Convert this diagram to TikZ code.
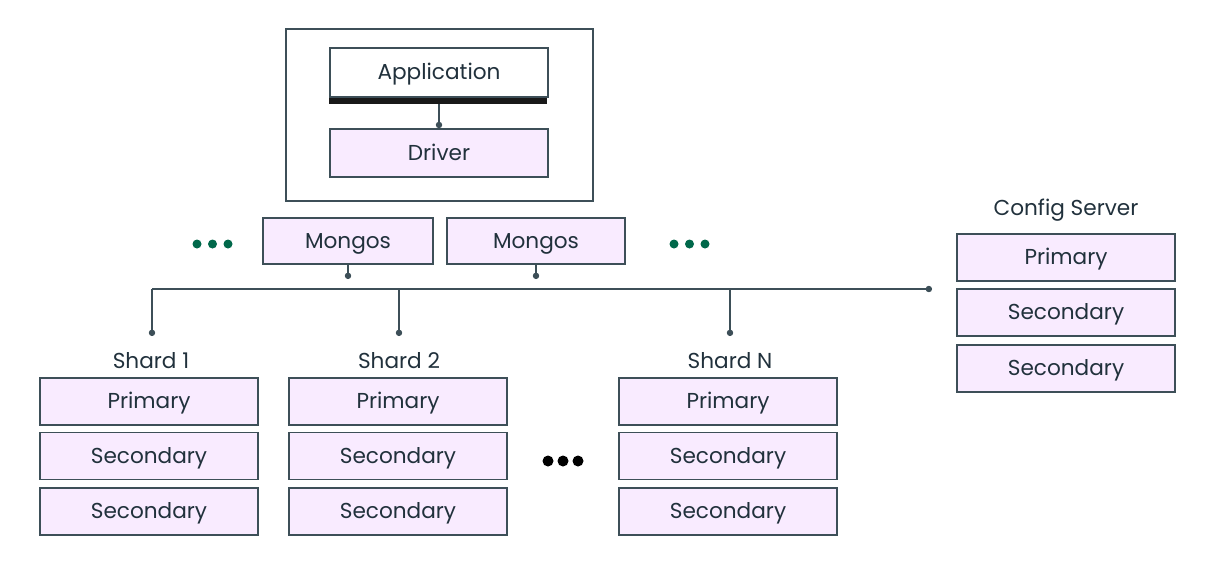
\documentclass[tikz,border=0pt]{standalone}
\usepackage{fontspec}
\setmainfont{Poppins}
\usepackage{xcolor}
\usepackage{tikz}
\usetikzlibrary{arrows.meta}
\definecolor{slate}{HTML}{3D4F58}
\definecolor{ink}{HTML}{21313C}
\definecolor{lilac}{HTML}{F9EBFF}
\definecolor{leaf}{HTML}{00684A}
\begin{document}
\begin{tikzpicture}[x=0.02cm, y=-0.02cm,
	replica/.style={draw=slate, line width=1pt, fill=lilac, text=ink, inner sep=0pt, minimum width=4.36cm, minimum height=0.94cm, text height=9pt, text depth=1pt, font=\fontsize{12.3}{14}\selectfont},
	tag/.style={text=ink, inner sep=0pt, text height=9pt, text depth=1pt, font=\fontsize{12.3}{14}\selectfont},
	link/.style={slate, line width=0.85pt},
	dotlink/.style={link, -{Circle[length=3.6pt]}}]
	\useasboundingbox (0,0) rectangle (1212,572);
	
	\node[draw=slate, line width=1pt, minimum width=6.14cm, minimum height=3.44cm, inner sep=0pt] (host) at (439.5,115) {};
	\node[replica, fill=white, minimum height=0.98cm] (app) at (439,72.5) {Application};
	\node[replica, minimum height=0.96cm] (drv) at (439,153) {Driver};
	\draw[dotlink] (app.south) -- (drv.north);
	\fill[black!90] (app.south west) rectangle ++(218,6);
	
	\node[replica, minimum width=3.4cm, minimum height=0.92cm] (mg1) at (348,241) {Mongos};
	\node[replica, minimum width=3.56cm, minimum height=0.92cm] (mg2) at (536,241) {Mongos};
	\coordinate (mg1end) at (348,279);
	\coordinate (mg2end) at (536,279);
	\draw[dotlink] (mg1.south) -- (mg1end);
	\draw[dotlink] (mg2.south) -- (mg2end);
	
	\coordinate (busA) at (152,289);
	\coordinate (busB) at (399,289);
	\coordinate (busN) at (730,289);
	\coordinate (busC) at (932,289);
	\draw[dotlink] (busA) -- (busC);
	
	\node[tag] (lab1) at (151,361) {Shard 1};
	\node[tag] (lab2) at (399,361) {Shard 2};
	\node[tag] (labN) at (730,361) {Shard N};
	\node[tag] (labC) at (1066,208) {Config Server};
	\coordinate (end1) at (152,336);
	\coordinate (end2) at (399,336);
	\coordinate (endN) at (730,336);
	\draw[dotlink] (busA) -- (end1);
	\draw[dotlink] (busB) -- (end2);
	\draw[dotlink] (busN) -- (endN);
	
	\node[replica] (s1p) at (149,401.5) {Primary};
	\node[replica] (s1a) at (149,456) {Secondary};
	\node[replica] (s1b) at (149,511.5) {Secondary};
	\node[replica] (s2p) at (398,401.5) {Primary};
	\node[replica] (s2a) at (398,456) {Secondary};
	\node[replica] (s2b) at (398,511.5) {Secondary};
	\node[replica] (snp) at (728,401.5) {Primary};
	\node[replica] (sna) at (728,456) {Secondary};
	\node[replica] (snb) at (728,511.5) {Secondary};
	\node[replica] (cfp) at (1066,257.5) {Primary};
	\node[replica] (cfa) at (1066,312.5) {Secondary};
	\node[replica] (cfb) at (1066,368.5) {Secondary};
	
	\fill[leaf] (197,244) circle (4.5) (212.5,244) circle (4.5) (228,244) circle (4.5);
	\fill[leaf] (674,244) circle (4.5) (689.5,244) circle (4.5) (705,244) circle (4.5);
	\fill[black] (548,461) circle (5.5) (563,461) circle (5.5) (578,461) circle (5.5);
\end{tikzpicture}
\end{document}
